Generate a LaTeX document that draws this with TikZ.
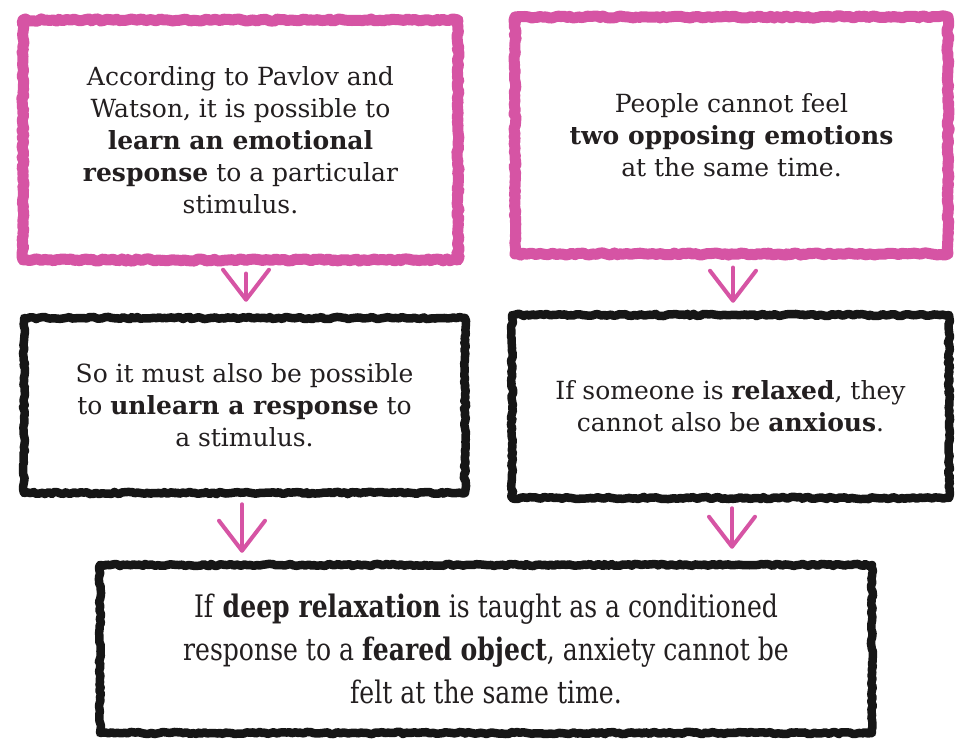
\documentclass[tikz,border=0pt]{standalone}
\usepackage{fontspec}
\setmainfont{DejaVu Serif}
\newfontfamily\condfont[FakeStretch=0.81]{DejaVu Serif}
\usetikzlibrary{arrows.meta,calc,decorations.pathmorphing}
\definecolor{pinkline}{RGB}{214,84,164}
\definecolor{inkline}{RGB}{22,22,22}
\definecolor{txt}{RGB}{35,31,32}
\tikzset{
  roughbox/.style={draw, rectangle, inner sep=0pt, align=center, text=txt,
    line join=round, decorate,
    decoration={random steps, segment length=3pt, amplitude=1.1pt}},
  pinkbox/.style={roughbox, draw=pinkline, line width=11pt},
  blackbox/.style={roughbox, draw=inkline, line width=8.5pt},
  toptext/.style={font=\fontsize{25}{32}\selectfont},
  bottext/.style={font=\condfont\fontsize{31}{43}\selectfont},
  arr/.style={draw=pinkline, line width=4pt, line cap=round,
    -{Straight Barb[length=30pt, width=46pt, line width=4pt, round]}}
}
\begin{document}
\begin{tikzpicture}[x=1pt,y=-1pt]
\pgfmathsetseed{7}
\useasboundingbox[fill=white] (0,0) rectangle (959,741);
\node[pinkbox, toptext, minimum width=435pt, minimum height=240pt] (p1) at (240.5,140)
  {According to Pavlov and\\ Watson, it is possible to\\ \textbf{learn an emotional}\\ \textbf{response} to a particular\\ stimulus.};
\node[pinkbox, toptext, minimum width=433pt, minimum height=237pt] (p2) at (731.5,135.5)
  {People cannot feel\\ \textbf{two opposing emotions}\\ at the same time.};
\node[blackbox, toptext, minimum width=441pt, minimum height=175pt] (b1) at (244.5,405.5)
  {So it must also be possible\\ to \textbf{unlearn a response} to\\ a stimulus.};
\node[blackbox, toptext, minimum width=437pt, minimum height=183pt] (b2) at (730.5,406.5)
  {If someone is \textbf{relaxed}, they\\ cannot also be \textbf{anxious}.};
\node[blackbox, bottext, minimum width=772pt, minimum height=168pt] (b3) at (486,649)
  {If \textbf{deep relaxation} is taught as a conditioned\\ response to a \textbf{feared object}, anxiety cannot be\\ felt at the same time.};
\draw[arr] ($(p1.south)+(5.5,8)$) -- ($(b1.north)+(1.5,-12)$);
\draw[arr] ($(p2.south)+(1.5,8)$) -- ($(b2.north)+(2.5,-8)$);
\draw[arr] ($(b1.south)+(-2.5,7)$) -- ($(b3.north)+(-244,-8)$);
\draw[arr] ($(b2.south)+(1.5,6)$) -- ($(b3.north)+(246,-12)$);
\end{tikzpicture}
\end{document}
